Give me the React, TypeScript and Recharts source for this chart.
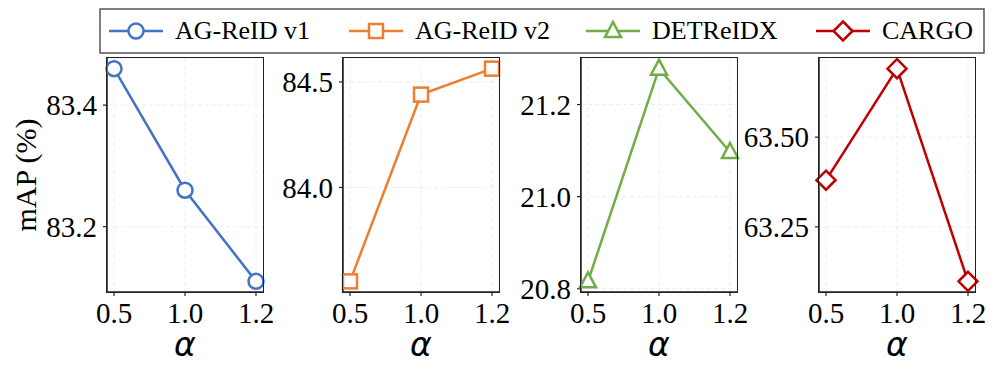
import * as React from 'react';
import { LineChart, Line, XAxis, YAxis, CartesianGrid, Label } from 'recharts';

const alphas = ['0.5', '1.0', '1.2'];

const agReidV1 = [83.46, 83.26, 83.11];
const agReidV2 = [83.555, 84.44, 84.563];
const detReidx = [20.816, 21.278, 21.097];
const cargo = [63.38, 63.691, 63.098];

const ticksV1 = [83.2, 83.4];
const ticksV2 = [84.0, 84.5];
const ticksDet = [20.8, 21.0, 21.2];
const ticksCargo = [63.25, 63.5];

const FONT = '"Liberation Serif", "Times New Roman", serif';

type Panel = {
  name: string;
  values: number[];
  ticks: number[];
  digits: number;
  color: string;
  marker: 'circle' | 'square' | 'triangle' | 'diamond';
  left: number;
};

const panels: Panel[] = [
  { name: 'AG-ReID v1', values: agReidV1, ticks: ticksV1, digits: 1, color: '#4472C4', marker: 'circle', left: 107 },
  { name: 'AG-ReID v2', values: agReidV2, ticks: ticksV2, digits: 1, color: '#ED7D31', marker: 'square', left: 343 },
  { name: 'DETReIDX', values: detReidx, ticks: ticksDet, digits: 1, color: '#70AD47', marker: 'triangle', left: 581 },
  { name: 'CARGO', values: cargo, ticks: ticksCargo, digits: 2, color: '#C00000', marker: 'diamond', left: 819 },
];

const PLOT_W = 156;
const PLOT_TOP = 58;
const PLOT_BOTTOM = 292;
const AXIS_W = 90;
const CHART_H = 374;

function Marker({ kind, cx, cy, color }: { kind: Panel['marker']; cx: number; cy: number; color: string }) {
  const sw = 2.5;
  if (kind === 'circle') return <circle cx={cx} cy={cy} r={7.5} fill="#fff" stroke={color} strokeWidth={sw} />;
  if (kind === 'square') return <rect x={cx - 7} y={cy - 7} width={14} height={14} fill="#fff" stroke={color} strokeWidth={sw} />;
  if (kind === 'triangle')
    return (
      <polygon
        points={`${cx},${cy - 9} ${cx + 8},${cy + 6} ${cx - 8},${cy + 6}`}
        fill="#fff"
        stroke={color}
        strokeWidth={sw}
      />
    );
  return (
    <polygon
      points={`${cx},${cy - 9.5} ${cx + 9.5},${cy} ${cx},${cy + 9.5} ${cx - 9.5},${cy}`}
      fill="#fff"
      stroke={color}
      strokeWidth={sw}
    />
  );
}

function PanelChart({ p }: { p: Panel }) {
  const data = alphas.map((a, i) => ({ alpha: a, v: p.values[i] }));
  const lo = Math.min(...p.values);
  const hi = Math.max(...p.values);
  const pad = (hi - lo) * 0.05;
  const width = AXIS_W + PLOT_W + 20;
  return (
    <div style={{ position: 'absolute', left: p.left - AXIS_W, top: 0 }}>
      <LineChart
        width={width}
        height={CHART_H}
        data={data}
        margin={{ top: PLOT_TOP, right: 20, bottom: 0, left: 0 }}
      >
        <CartesianGrid stroke="#e8e8e8" strokeDasharray="4 3" strokeWidth={0.8} />
        <XAxis
          dataKey="alpha"
          type="category"
          height={CHART_H - PLOT_BOTTOM}
          padding={{ left: 7, right: 7 }}
          tickLine={{ stroke: '#222', strokeWidth: 1.2 }}
          axisLine={{ stroke: '#222', strokeWidth: 1.5 }}
          tickSize={4}
          tickMargin={6}
          fontSize={29}
          fontFamily={FONT}
          tick={{ fill: '#000', fontSize: 29, fontFamily: FONT }}
          interval={0}
        >
          <Label
            content={({ viewBox }: any) => (
              <text
                x={viewBox.x + viewBox.width / 2}
                y={356}
                textAnchor="middle"
                fontSize={33}
                fontStyle="italic"
                fontFamily='"DejaVu Sans", sans-serif'
                fill="#000"
              >
                α
              </text>
            )}
          />
        </XAxis>
        <YAxis
          type="number"
          domain={[lo - pad, hi + pad]}
          ticks={p.ticks}
          width={AXIS_W}
          allowDataOverflow
          tickFormatter={(v: number) => v.toFixed(p.digits)}
          tickLine={{ stroke: '#222', strokeWidth: 1.2 }}
          axisLine={{ stroke: '#222', strokeWidth: 1.5 }}
          tickSize={4}
          tickMargin={6}
          fontSize={29}
          fontFamily={FONT}
          tick={{ fill: '#000', fontSize: 29, fontFamily: FONT }}
        />
        <Line
          dataKey="v"
          stroke={p.color}
          strokeWidth={2.5}
          isAnimationActive={false}
          dot={(d: any) => <Marker key={d.index} kind={p.marker} cx={d.cx} cy={d.cy} color={p.color} />}
          activeDot={false}
        />
      </LineChart>
      {/* frame around the plot area */}
      <div
        style={{
          position: 'absolute',
          left: AXIS_W - 0.75,
          top: PLOT_TOP - 0.75,
          width: PLOT_W,
          height: PLOT_BOTTOM - PLOT_TOP,
          border: '1.5px solid #222',
          pointerEvents: 'none',
        }}
      />
    </div>
  );
}

function LegendBox() {
  const items = [
    { p: panels[0], x: 109 },
    { p: panels[1], x: 349 },
    { p: panels[2], x: 586 },
    { p: panels[3], x: 816 },
  ];
  return (
    <svg width={996} height={60} style={{ position: 'absolute', left: 0, top: 0 }}>
      <rect x={100} y={9} width={884} height={44} fill="#fff" stroke="#555" strokeWidth={1.5} />
      {items.map(({ p, x }) => (
        <g key={p.name}>
          <line x1={x} x2={x + 54} y1={31} y2={31} stroke={p.color} strokeWidth={2.5} />
          <Marker kind={p.marker} cx={x + 27} cy={31} color={p.color} />
          <text x={x + 66} y={39} fontSize={26} fontFamily={FONT} fill="#000">
            {p.name}
          </text>
        </g>
      ))}
    </svg>
  );
}

export default function App() {
  return (
    <div style={{ position: 'absolute', left: 0, top: 0, width: 996, height: 374, background: '#fff', fontFamily: FONT }}>
      {panels.map((p) => (
        <PanelChart key={p.name} p={p} />
      ))}
      <div
        style={{
          position: 'absolute',
          left: 26,
          top: 175,
          transform: 'translate(-50%, -50%) rotate(-90deg)',
          fontSize: 30,
          whiteSpace: 'nowrap',
          color: '#000',
        }}
      >
        mAP (%)
      </div>
      <LegendBox />
    </div>
  );
}
